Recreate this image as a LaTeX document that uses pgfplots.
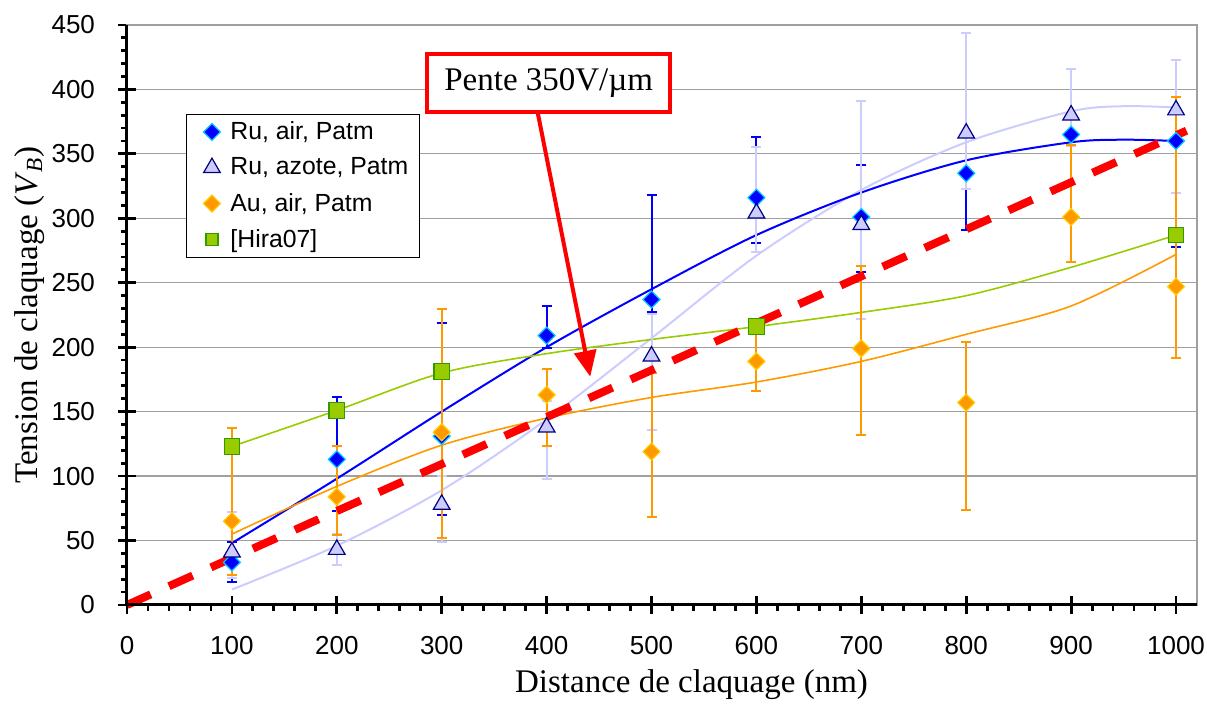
\documentclass[border=0pt]{standalone}
\usepackage{fontspec}
\setmainfont{Liberation Serif}
\newfontfamily\arial{Liberation Sans}
\usepackage{pgfplots}
\usepackage{pgfplotstable}
\pgfplotsset{compat=1.18}
\usetikzlibrary{arrows.meta}

\definecolor{ruair}{HTML}{0000FF}
\definecolor{ruairedge}{HTML}{00CCFF}
\definecolor{lav}{HTML}{CCCCFF}
\definecolor{navyedge}{HTML}{000080}
\definecolor{aufill}{HTML}{FF9900}
\definecolor{auedge}{HTML}{FFCC00}
\definecolor{hirafill}{HTML}{99CC00}
\definecolor{hiraedge}{HTML}{339900}
\definecolor{gridgray}{HTML}{A0A0A0}

% Ru, air, Patm
\pgfplotstableread{
x    y    ep  em
100  33   16  15
200  113  48  40
300  131  88  61
400  209  23  10
500  237  81  10
600  316  47  35
700  301  40  43
800  335  0   44
900  365  0   0
1000 360  0   82
}\tRuAir

% Ru, azote, Patm
\pgfplotstableread{
x    y    ep  em
100  41   31  20
200  43   12  12
300  78   22  29
400  138  20  40
500  193  33  57
600  304  51  30
700  295  96  73
800  366  78  43
900  380  36  24
1000 384  39  64
}\tRuAz

% Au, air, Patm
\pgfplotstableread{
x    y    ep  em
100  65   72  42
200  84   39  30
300  134  96  82
400  163  20  40
500  119  61  51
600  189  25  23
700  199  64  67
800  157  47  83
900  301  56  35
1000 247  147 55
}\tAu

% [Hira07]
\pgfplotstableread{
x    y
100  123
200  151
300  181
600  216
1000 287
}\tHira

\begin{document}
\begin{tikzpicture}
\useasboundingbox (-63.5pt,-49.5pt) rectangle (540pt,302.5pt);
\begin{axis}[
  scale only axis, width=535pt, height=290pt,
  at={(0,0)}, anchor=south west,
  xmin=0, xmax=1020, ymin=0, ymax=450,
  clip=false,
  xtick={0,100,...,1000}, ytick={0,50,...,450},
  minor x tick num=4, minor y tick num=4,
  xtick pos=bottom, ytick pos=left,
  tick align=center,
  major tick length=9pt, minor tick length=3pt,
  every tick/.style={black, line width=1.4pt},
  minor x tick style={yshift=-1.5pt},
  minor y tick style={xshift=-1.5pt},
  ymajorgrids, major grid style={gridgray, line width=0.6pt},
  axis line style={gridgray, line width=0.6pt},
  tick label style={font=\arial\fontsize{13}{15}\selectfont},
  /pgf/number format/assume math mode=true,
  /pgf/number format/set thousands separator={},
  xticklabel style={yshift=-7.5pt},
  yticklabel style={xshift=-8pt},
  xlabel={Distance de claquage (nm)},
  ylabel={Tension de claquage (\textit{V}\textsubscript{\textit{B}})},
  label style={font=\fontsize{16.5}{19}\selectfont},
  xlabel style={at={(axis description cs:0.5276,-0.1517)}, anchor=base},
  ylabel style={at={(axis description cs:-0.0841,0.5)}, anchor=base},
  legend style={at={(0.0551,0.8466)}, anchor=north west, draw=black, line width=0.5pt,
    font=\arial\fontsize{12.4}{14}\selectfont, inner xsep=3.5pt, inner ysep=1.5pt,
    row sep=3.65pt, column sep=3pt},
  legend cell align=left,
  legend image code/.code={\path[draw=none, fill=none] (-9.25pt,0pt) (4.25pt,0pt); \draw[#1] plot coordinates {(0pt,0pt)};},
]
\addlegendimage{only marks, mark=square*, mark size=3pt, mark options={rotate=45, fill=ruair, draw=ruairedge, line width=0.6pt}}
\addlegendentry{Ru, air, Patm}
\addlegendimage{only marks, mark=triangle*, mark size=4.8pt, mark options={fill=lav, draw=navyedge, line width=0.6pt}}
\addlegendentry{Ru, azote, Patm}
\addlegendimage{only marks, mark=square*, mark size=3pt, mark options={rotate=45, fill=aufill, draw=auedge, line width=0.6pt}}
\addlegendentry{Au, air, Patm}
\addlegendimage{only marks, mark=square*, mark size=3pt, mark options={fill=hirafill, draw=hiraedge, line width=0.6pt}}
\addlegendentry{[Hira07]}

% trend lines
\addplot[forget plot, no marks, smooth, line width=1pt, color=lav] coordinates {
(100,12) (200,46) (300,89) (400,144) (500,207) (600,271) (700,322) (800,359) (900,383) (950,387) (1000,386)};
\addplot[forget plot, no marks, smooth, line width=1pt, color=ruair] coordinates {
(100,48) (200,98) (300,150) (400,200) (500,245) (600,287) (700,320) (800,345) (900,359) (950,361) (1000,360)};
\addplot[forget plot, no marks, smooth, line width=0.8pt, color=aufill] coordinates {
(100,55) (200,92) (300,124) (400,145) (500,161) (600,173) (700,189) (800,210) (900,232) (1000,272)};
\addplot[forget plot, no marks, smooth, line width=0.8pt, color=hirafill] coordinates {
(100,123) (200,151) (300,180) (400,195) (500,206) (600,216) (700,227) (800,240) (900,262) (1000,287)};

% error bars
\addplot[forget plot, only marks, mark=none,
  error bars/.cd, y dir=both, y explicit,
  error bar style={ruair, line width=1pt},
  error mark options={ruair, line width=1pt, mark size=2.5pt, rotate=90}]
  table[x=x, y=y, y error plus=ep, y error minus=em] {\tRuAir};
\addplot[forget plot, only marks, mark=none,
  error bars/.cd, y dir=both, y explicit,
  error bar style={lav, line width=1pt},
  error mark options={lav, line width=1pt, mark size=2.5pt, rotate=90}]
  table[x=x, y=y, y error plus=ep, y error minus=em] {\tRuAz};
\addplot[forget plot, only marks, mark=none,
  error bars/.cd, y dir=both, y explicit,
  error bar style={aufill, line width=1pt},
  error mark options={aufill, line width=1pt, mark size=2.5pt, rotate=90}]
  table[x=x, y=y, y error plus=ep, y error minus=em] {\tAu};

% markers
\addplot[forget plot, only marks, mark=square*, mark size=3pt,
  mark options={rotate=45, fill=ruair, draw=ruairedge, line width=0.6pt}]
  table[x=x, y=y] {\tRuAir};
\addplot[forget plot, only marks, mark=triangle*, mark size=4.8pt,
  mark options={fill=lav, draw=navyedge, line width=0.6pt}]
  table[x=x, y=y] {\tRuAz};
\addplot[forget plot, only marks, mark=square*, mark size=3pt,
  mark options={rotate=45, fill=aufill, draw=auedge, line width=0.6pt}]
  table[x=x, y=y] {\tAu};
\addplot[forget plot, only marks, mark=square*, mark size=3.9pt,
  mark options={fill=hirafill, draw=hiraedge, line width=0.6pt}]
  table[x=x, y=y] {\tHira};

% slope line
\addplot[forget plot, no marks, red, line width=4pt, dash pattern=on 13pt off 10pt] coordinates {(0,0) (1010,368)};

% axis lines
\draw[black, line width=1.5pt] (rel axis cs:0,1) -- (rel axis cs:0,0) -- (rel axis cs:1,0);

% annotation
\draw[red, line width=2pt, -{Triangle[length=13pt,width=11pt]}] (axis cs:391.4,382.5) -- (axis cs:441.6,177.1);
\node[draw=red, line width=1.8pt, fill=white, minimum width=121.5pt, minimum height=29pt, inner sep=0pt,
  font=\fontsize{16.5}{19}\selectfont] at (axis cs:402,405) {Pente 350V/µm};
\end{axis}
\end{tikzpicture}
\end{document}
